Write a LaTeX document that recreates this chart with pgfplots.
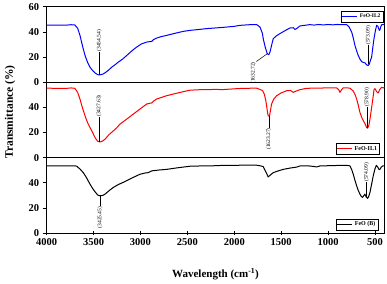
\documentclass[border=0pt]{standalone}
\usepackage{fontspec}
\setmainfont{Liberation Serif}
\usepackage{pgfplots}
\pgfplotsset{compat=1.18}
\usepgfplotslibrary{groupplots}
\begin{document}
\begin{tikzpicture}
\begin{groupplot}[
  group style={group size=1 by 3, vertical sep=0pt},
  width=337.6pt, height=75.4pt, scale only axis,
  xmin=400, xmax=4000, x dir=reverse, ymin=0, ymax=60,
  clip=false,
  axis line style={line width=1.1pt},
  /pgf/number format/assume math mode=true,
  /pgf/number format/1000 sep={},
  tick label style={font=\fontsize{10.5}{12}\selectfont\bfseries},
  ytick align=outside, xtick align=center,
  major tick length=4pt,
  tick style={line width=0.8pt, black},
  ytick pos=left, xtick pos=bottom,
  legend cell align=left,
  legend image code/.code={\draw[#1,line width=1pt] (0pt,0pt) -- (15pt,0pt);},
  legend style={draw=black, line width=0.5pt, inner sep=0.6pt, row sep=0pt},
  every axis plot/.append style={line width=1pt, line join=round},
]
\nextgroupplot[ytick={0,20,40,60}, xtick=\empty,
  legend style={at={(0.997,0.943)}, anchor=north east, font=\fontsize{5.5}{6}\selectfont\bfseries}]
\addplot[blue, mark=none] coordinates {
(4000,45.5) (3900,45.4) (3800,45.4) (3740,45.8) (3700,45.6) (3670,43) (3645,37.3) (3615,28) (3591,21.3) (3565,16) (3538,12) (3510,9.3) (3485,7.5) (3455,6.0) (3432,5.9) (3405,6.4) (3378,7.5) (3340,9.7) (3307,12) (3270,14) (3237,16) (3190,18.5) (3147,21.3) (3095,24.8) (3041,28) (2990,30.5) (2934,32) (2905,32.3) (2881,32.5) (2860,34) (2827,35.2) (2780,36.3) (2721,37.3) (2630,39) (2544,40.5) (2472,41.3) (2366,42.1) (2294,42.7) (2117,43.7) (2000,44.5) (1939,45.3) (1840,45.8) (1761,45.9) (1726,44) (1700,39) (1691,34.7) (1670,28) (1648,22.7) (1632,22) (1619,24) (1600,30) (1584,34.7) (1550,37) (1513,38.7) (1460,41) (1406,43.2) (1370,43.4) (1353,42) (1330,43) (1300,44.8) (1250,45.3) (1193,45.9) (1150,45.5) (1100,46) (1050,45.6) (1000,46) (950,45.7) (900,46) (850,45.8) (802,45.9) (775,44) (748,40) (730,35) (713,29.3) (695,25) (678,21.3) (660,18.5) (642,16.5) (625,15.8) (607,15.5) (590,14) (573,13.3) (560,14.5) (545,18) (535,20) (522,28) (510,34.7) (495,41) (482,45.3) (468,44.5) (454,41.3) (445,42) (439,44) (425,46) (411,45.9) (400,46.2)
};
\addlegendentry{FeO-IL2}
\draw[line width=0.5pt] (axis cs:3440,6) -- (axis cs:3440,24);
\node[rotate=90, anchor=west, inner sep=0.5pt, font=\fontsize{5.5}{6}\selectfont] at (axis cs:3440,24) {(3454.54)};
\draw[line width=0.5pt] (axis cs:1648,22.7) -- (axis cs:1765,16.5);
\node[rotate=90, anchor=east, inner sep=0.5pt, font=\fontsize{5.5}{6}\selectfont] at (axis cs:1797,16.5) {(1632.72)};
\draw[line width=0.5pt] (axis cs:571,14.5) -- (axis cs:571,29.3);
\node[rotate=90, anchor=west, inner sep=0.5pt, font=\fontsize{5.5}{6}\selectfont] at (axis cs:571,29.3) {(573.09)};

\nextgroupplot[ytick={0,20,40}, xtick=\empty,
  legend style={at={(0.987,0.044)}, anchor=south east, font=\fontsize{6}{7}\selectfont\bfseries}]
\addplot[red, mark=none] coordinates {
(4000,55.3) (3900,55.2) (3800,55.1) (3740,55.5) (3700,55.2) (3670,52) (3645,46.6) (3620,40) (3591,33.3) (3565,28) (3538,24) (3510,20) (3485,16) (3455,13) (3432,12.5) (3405,13.2) (3378,14.7) (3340,18) (3290,21.3) (3250,24) (3219,26.7) (3150,30.5) (3077,34.7) (3000,39) (2934,42.7) (2900,43.3) (2881,43.5) (2860,45) (2827,46.7) (2721,49.3) (2630,51) (2544,52.5) (2472,53.7) (2366,54.1) (2200,54.3) (2117,54.2) (2000,54.8) (1900,55.2) (1761,55.3) (1700,53.5) (1680,50.7) (1665,46) (1655,41.3) (1645,36) (1638,33.3) (1625,33) (1615,37) (1602,42.7) (1580,46.5) (1548,49.3) (1500,51.5) (1441,53.3) (1400,53.5) (1371,52) (1340,53) (1300,54.1) (1228,55.2) (1100,55.4) (1000,55.5) (908,55.5) (885,54) (873,52) (860,53.5) (840,55.5) (800,55.6) (766,55.3) (731,53) (710,50) (695,46.7) (678,42) (660,36) (640,32) (624,29.5) (605,27) (589,24) (578,23.5) (565,25.5) (550,32) (535,40) (520,48) (510,54) (500,55) (485,53) (475,52) (465,51.5) (450,54) (429,56) (410,55.5) (400,56)
};
\addlegendentry{FeO-IL1}
\draw[line width=0.5pt] (axis cs:3442,12.5) -- (axis cs:3442,32);
\node[rotate=90, anchor=west, inner sep=0.5pt, font=\fontsize{5.5}{6}\selectfont] at (axis cs:3442,32) {(3427.63)};
\draw[line width=0.5pt] (axis cs:1632,33) -- (axis cs:1632,24);
\node[rotate=90, anchor=east, inner sep=0.5pt, font=\fontsize{5.5}{6}\selectfont] at (axis cs:1632,24) {(1623.27)};
\draw[line width=0.5pt] (axis cs:585,24) -- (axis cs:585,40);
\node[rotate=90, anchor=west, inner sep=0.5pt, font=\fontsize{5.5}{6}\selectfont] at (axis cs:585,40) {(578.90)};

\nextgroupplot[ytick={0,20,40}, xtick={500,1000,...,4000},
  legend style={at={(0.982,0.04)}, anchor=south east, font=\fontsize{6}{7}\selectfont\bfseries}]
\addplot[black, mark=none] coordinates {
(4000,53.5) (3900,53.4) (3800,53.4) (3700,53.5) (3680,53.2) (3645,51) (3610,48.1) (3575,44) (3538,38.9) (3510,35.5) (3485,32.9) (3455,30.2) (3432,29.7) (3400,30) (3378,31) (3330,34) (3290,36.3) (3240,38.5) (3186,40.3) (3100,43.5) (3006,46.8) (2950,47.8) (2917,48.1) (2881,49.5) (2800,50.2) (2721,50.7) (2600,52) (2472,53.2) (2366,53.4) (2200,53.6) (2117,53.9) (1900,54) (1761,54) (1720,53.5) (1691,52.9) (1665,49) (1638,44.7) (1610,46.5) (1584,48.1) (1530,49.5) (1478,50.7) (1400,51.8) (1335,52.5) (1300,53.4) (1200,53.4) (1150,53) (1122,52.6) (1087,53.4) (1000,53.6) (900,53.8) (802,53.9) (766,53.5) (745,50) (731,46.8) (713,42) (695,37.6) (678,34) (660,31) (645,29.2) (631,28.4) (619,29.8) (607,31) (595,29) (578,27.6) (565,29.5) (553,32.3) (535,39) (518,45.5) (500,51) (485,53.9) (470,52.5) (455,50.5) (447,50.7) (432,52.5) (418,53.4) (400,53.5)
};
\addlegendentry{FeO (B)}
\draw[line width=0.5pt] (axis cs:3432,29.7) -- (axis cs:3432,21.5);
\node[rotate=90, anchor=east, inner sep=0.5pt, font=\fontsize{5.5}{6}\selectfont] at (axis cs:3432,21.5) {(3425.45)};
\draw[line width=0.5pt] (axis cs:589,28.4) -- (axis cs:589,40.3);
\node[rotate=90, anchor=west, inner sep=0.5pt, font=\fontsize{5.5}{6}\selectfont] at (axis cs:589,40.3) {(574.09)};
\end{groupplot}
\node[rotate=90, font=\fontsize{11.5}{13}\selectfont\bfseries] at ([xshift=-36.7pt,yshift=8pt]group c1r2.west) {Transmittance (\%)};
\node[font=\fontsize{11}{13}\selectfont\bfseries] at ([yshift=-41pt]group c1r3.south) {Wavelength (cm\textsuperscript{-1})};
\path ([xshift=-46.7pt,yshift=5pt]group c1r1.north west) rectangle ([xshift=2.7pt,yshift=-48pt]group c1r3.south east);
\end{tikzpicture}
\end{document}
